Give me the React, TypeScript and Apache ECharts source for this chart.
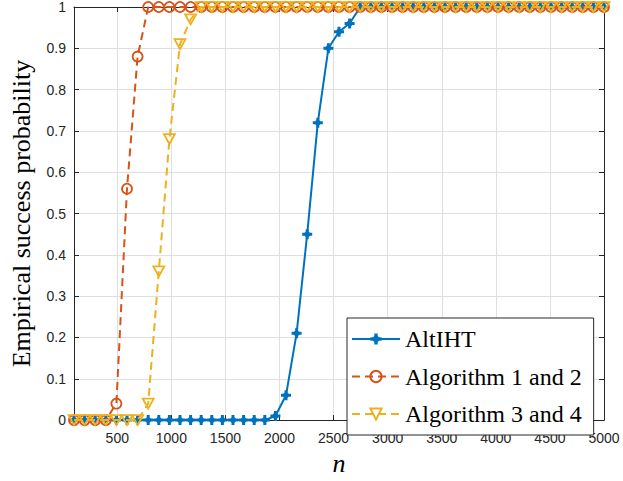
import React, { useEffect, useRef } from "react";
import * as echarts from "echarts";

const nValues = [
  100, 198, 296, 394, 492, 590, 688, 786, 884, 982,
  1080, 1178, 1276, 1374, 1472, 1570, 1668, 1766, 1864, 1962,
  2060, 2158, 2256, 2354, 2452, 2550, 2648, 2746, 2844, 2942,
  3040, 3138, 3236, 3334, 3432, 3530, 3628, 3726, 3824, 3922,
  4020, 4118, 4216, 4314, 4412, 4510, 4608, 4706, 4804, 4902,
  5000,
];

const altIHT = [
  0, 0, 0, 0, 0, 0, 0, 0, 0, 0,
  0, 0, 0, 0, 0, 0, 0, 0, 0, 0.01,
  0.06, 0.21, 0.45, 0.72, 0.9, 0.94, 0.96, 1, 1, 1,
  1, 1, 1, 1, 1, 1, 1, 1, 1, 1,
  1, 1, 1, 1, 1, 1, 1, 1, 1, 1,
  1,
];

const alg12 = [
  0, 0, 0, 0, 0.04, 0.56, 0.88, 1, 1, 1,
  1, 1, 1, 1, 1, 1, 1, 1, 1, 1,
  1, 1, 1, 1, 1, 1, 1, 1, 1, 1,
  1, 1, 1, 1, 1, 1, 1, 1, 1, 1,
  1, 1, 1, 1, 1, 1, 1, 1, 1, 1,
  1,
];

const alg34 = [
  0, 0, 0, 0, 0, 0, 0, 0.04, 0.36, 0.68,
  0.91, 0.97, 1, 1, 1, 1, 1, 1, 1, 1,
  1, 1, 1, 1, 1, 1, 1, 1, 1, 1,
  1, 1, 1, 1, 1, 1, 1, 1, 1, 1,
  1, 1, 1, 1, 1, 1, 1, 1, 1, 1,
  1,
];

const xTicks = [500, 1000, 1500, 2000, 2500, 3000, 3500, 4000, 4500, 5000];
const seriesNames = ["AltIHT", "Algorithm 1 and 2", "Algorithm 3 and 4"];

const BLUE = "#0072BD";
const ORANGE = "#D95319";
const YELLOW = "#EDB120";
const AXIS = "#262626";
const GRID = "#dfdfdf";

const starPath =
  "path://M3.5,0 H6.5 V3.5 H10 V6.5 H6.5 V10 H3.5 V6.5 H0 V3.5 H3.5 Z M5,0.8 L9.2,5 L5,9.2 L0.8,5 Z";
const triDown = "path://M0,0 L10,0 L5,8.66 Z";

export default function App() {
  const ref = useRef<HTMLDivElement>(null);

  useEffect(() => {
    if (!ref.current) return;
    const chart = echarts.init(ref.current, null, { renderer: "svg" });
    const toPairs = (vals: number[]) => nValues.map((n, i) => [n, vals[i]]);
    const tickFont = { fontFamily: "Liberation Sans", fontSize: 14, color: AXIS };

    chart.setOption({
      animation: false,
      backgroundColor: "#fff",
      grid: { left: 73, right: 19, top: 7, bottom: 57, containLabel: false },
      legend: {
        orient: "vertical",
        left: 347,
        top: 318,
        backgroundColor: "#fff",
        borderColor: AXIS,
        borderWidth: 1,
        borderRadius: 0,
        padding: [9, 12, 9, 4],
        itemWidth: 48,
        itemHeight: 14,
        itemGap: 13.5,
        data: seriesNames,
        textStyle: { fontFamily: "Liberation Serif", fontSize: 24, color: "#000" },
      },
      xAxis: [
        {
          type: "value",
          min: 100,
          max: 5000,
          position: "bottom",
          name: "n",
          nameLocation: "middle",
          nameGap: 29,
          nameTextStyle: {
            fontFamily: "Liberation Serif",
            fontStyle: "italic",
            fontSize: 26,
            color: "#000",
          },
          axisLine: { show: true, onZero: false, lineStyle: { color: AXIS, width: 1 } },
          axisTick: { show: true, inside: true, length: 5, customValues: xTicks, lineStyle: { color: AXIS } },
          axisLabel: {
            ...tickFont,
            margin: 11,
            customValues: xTicks,
            formatter: (v: number) => String(v),
          },
          splitLine: { show: true, lineStyle: { color: GRID, width: 1 } },
        },
        {
          type: "value",
          min: 100,
          max: 5000,
          position: "top",
          axisLine: { show: true, onZero: false, lineStyle: { color: AXIS, width: 1 } },
          axisTick: { show: true, inside: true, length: 5, customValues: xTicks, lineStyle: { color: AXIS } },
          axisLabel: { show: false },
          splitLine: { show: false },
        },
      ],
      yAxis: [
        {
          type: "value",
          min: 0,
          max: 1,
          interval: 0.1,
          position: "left",
          name: "Empirical success probability",
          nameLocation: "middle",
          nameGap: 40,
          nameTextStyle: { fontFamily: "Liberation Serif", fontSize: 26, color: "#000" },
          axisLine: { show: true, onZero: false, lineStyle: { color: AXIS, width: 1 } },
          axisTick: { show: true, inside: true, length: 5, lineStyle: { color: AXIS } },
          axisLabel: { ...tickFont, margin: 8 },
          splitLine: { show: true, lineStyle: { color: GRID, width: 1 } },
        },
        {
          type: "value",
          min: 0,
          max: 1,
          interval: 0.1,
          position: "right",
          axisLine: { show: true, onZero: false, lineStyle: { color: AXIS, width: 1 } },
          axisTick: { show: true, inside: true, length: 5, lineStyle: { color: AXIS } },
          axisLabel: { show: false },
          splitLine: { show: false },
        },
      ],
      series: [
        {
          name: seriesNames[0],
          type: "line",
          clip: false,
          data: toPairs(altIHT),
          symbol: starPath,
          symbolSize: 10,
          lineStyle: { color: BLUE, width: 2 },
          itemStyle: { color: BLUE, borderWidth: 0 },
          z: 2,
        },
        {
          name: seriesNames[1],
          type: "line",
          clip: false,
          data: toPairs(alg12),
          symbol: "circle",
          symbolSize: 10,
          lineStyle: { color: ORANGE, width: 2, type: [8, 5] },
          itemStyle: { color: "rgba(0,0,0,0)", borderColor: ORANGE, borderWidth: 1.8 },
          z: 3,
        },
        {
          name: seriesNames[2],
          type: "line",
          clip: false,
          data: toPairs(alg34),
          symbol: triDown,
          symbolSize: [11, 10],
          lineStyle: { color: YELLOW, width: 2, type: [8, 5] },
          itemStyle: { color: "rgba(0,0,0,0)", borderColor: YELLOW, borderWidth: 1.8 },
          z: 4,
        },
      ],
    });

    return () => chart.dispose();
  }, []);

  return (
    <div
      ref={ref}
      style={{ position: "absolute", left: 0, top: 0, width: 623, height: 481 }}
    />
  );
}
